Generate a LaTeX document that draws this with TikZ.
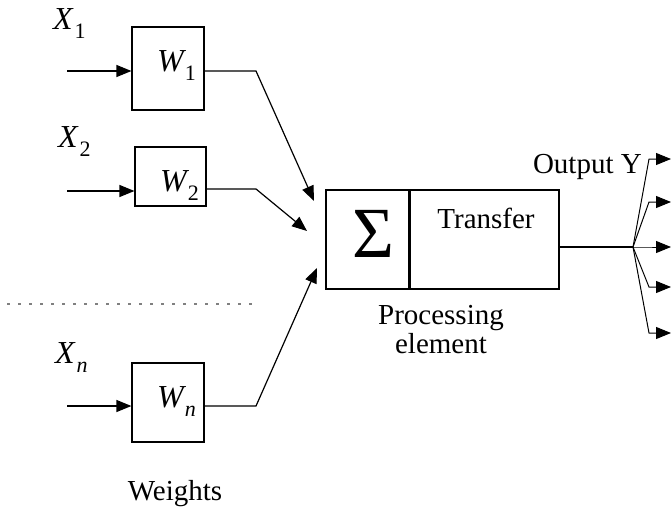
\documentclass[tikz,border=0pt]{standalone}
\usepackage{fontspec}
\setmainfont{Liberation Serif}
\usetikzlibrary{arrows.meta}
\newcommand\sbs[1]{\raisebox{-9pt}{\fontsize{22}{22}\selectfont #1}}
\begin{document}
\begin{tikzpicture}[x=1pt,y=-1pt,
  box/.style={draw, line width=1.2pt, inner sep=0pt},
  wire/.style={line width=1.2pt},
  arr/.style={wire, -{Triangle[length=15pt,width=12pt]}},
  lbl/.style={inner sep=0pt, anchor=base west, font=\fontsize{32}{32}\selectfont\itshape},
  txt/.style={inner sep=0pt, font=\fontsize{29}{29}\selectfont},
]
\useasboundingbox (0,0) rectangle (671,508);
% weight boxes
\node[box, minimum width=72pt, minimum height=83pt] (w1) at (168,68.5) {};
\node[box, minimum width=71pt, minimum height=59pt] (w2) at (170.5,176.5) {};
\node[box, minimum width=72pt, minimum height=79pt] (wn) at (168,402.5) {};
\node[lbl] (w1l) at (157,72) {W\kern1pt\sbs{\upshape 1}};
\node[lbl] (w2l) at (160,191) {W\kern1pt\sbs{\upshape 2}};
\node[lbl] (wnl) at (157,407) {W\kern1pt\sbs{n}};
% input labels
\node[lbl] (x1) at (53,30) {X\kern2pt\sbs{\upshape 1}};
\node[lbl] (x2) at (58,147) {X\kern2pt\sbs{\upshape 2}};
\node[lbl] (xn) at (55,363) {X\kern2pt\sbs{n}};
% inputs
\coordinate (in1) at (67,71);
\coordinate (in2) at (67,191);
\coordinate (inn) at (67,406);
\draw[arr] (in1) -- (in1 -| w1.west);
\draw[arr] (in2) -- (in2 -| w2.west);
\draw[arr] (inn) -- (inn -| wn.west);
% processing element
\node[box, minimum width=83pt, minimum height=99pt] (sum) at (367.5,239.5) {};
\node[box, minimum width=150pt, minimum height=99pt] (tr) at (484,239.5) {};
\draw[line width=2pt] (sum.north east) -- (sum.south east);
\node[inner sep=0pt, font=\fontsize{72}{72}\selectfont] (sig) at (373,234) {Σ};
\node[txt, anchor=base] (trl) at (486,228) {Transfer};
\node[txt, anchor=north, align=center] (pe) at (441,305) {Processing\\element};
% weight outputs
\coordinate (k1) at (256,71);
\coordinate (k2) at (256,189);
\coordinate (kn) at (256,406);
\coordinate (t1) at (314,201);
\coordinate (t2) at (307,231);
\coordinate (tn) at (317,268);
\draw[arr] (w1.east |- k1) -- (k1) -- (t1);
\draw[arr] (w2.east |- k2) -- (k2) -- (t2);
\draw[arr] (wn.east |- kn) -- (kn) -- (tn);
% dotted separator
\draw[gray, line width=2.6pt, dash pattern=on 2.6pt off 8.4pt] (7,304) -- (258,304);
% output
\coordinate (fan) at (633,247);
\draw[wire] (tr.east |- fan) -- (fan);
\node[txt, anchor=base east] (out) at (642,173) {Output Y};
\foreach \yy in {159,202,247,287,333} {
  \draw[arr, line width=1pt] (fan) -- (649,\yy) -- (671,\yy);
}
\node[txt, anchor=base] (wt) at (175,500) {Weights};
\end{tikzpicture}
\end{document}
